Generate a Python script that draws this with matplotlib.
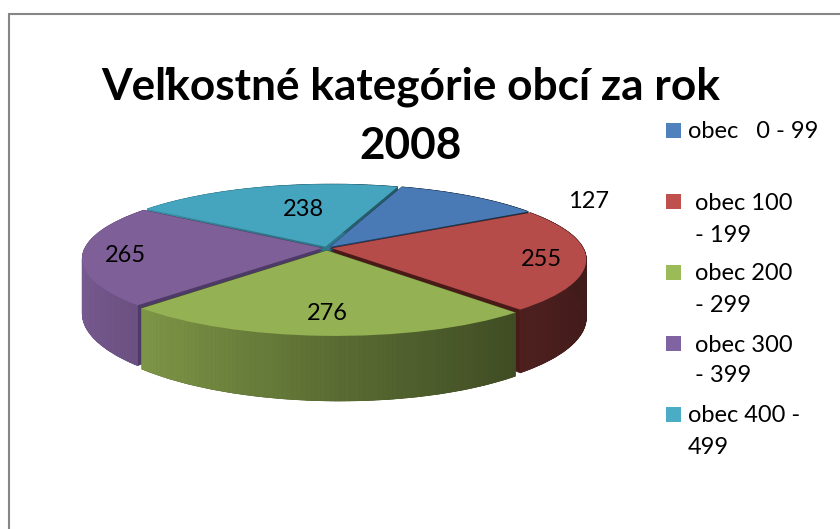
import numpy as np
import matplotlib
matplotlib.use("Agg")
import matplotlib.pyplot as plt
from matplotlib.collections import PolyCollection
from matplotlib.colors import to_rgb
from matplotlib.patches import Rectangle, Wedge
from matplotlib.transforms import Transform

# data
categories = ["obec   0 - 99", "obec 100 - 199", "obec 200 - 299", "obec 300 - 399", "obec 400 - 499"]
values = [127, 255, 276, 265, 238]
title_lines = ["Veľkostné kategórie obcí za rok", "2008"]
legend_lines = [["obec   0 - 99"], ["obec 100", "- 199"], ["obec 200", "- 299"], ["obec 300", "- 399"], ["obec 400 -", "499"]]

# styles
colors = ["#4A7AB5", "#B54C49", "#94B153", "#7E5F98", "#45A4BE"]
legend_colors = ["#4F81BD", "#C0504D", "#9BBB59", "#8064A2", "#4BACC6"]
cut_colors = ["#1F3F66", "#4A1A18", "#3E4A22", "#4D3A66", "#2F7688"]
explode = [0.02, 0.02, 0.035, 0.02, 0.02]
label_pos = [(589, 201), (541, 259), (327, 313), (125, 255), (303, 209)]
legend_sq_y = [123, 194, 265, 336, 407]
legend_text_x = [688, 695, 695, 695, 688]
legend_text_y = [[132], [203, 235], [274, 306], [345, 376], [416, 448]]

plt.rcParams["font.family"] = ["Lato", "DejaVu Sans"]

# view of the pie, in pixels
CX, CY, RX, RY = 327, 248, 244, 72
K, M = 0.147, -0.028
DEPTH = 55
START = 70.5


class Proj(Transform):
    input_dims = 2
    output_dims = 2

    def __init__(self, drop=0):
        super().__init__()
        self.drop = drop

    def transform_non_affine(self, xy):
        xy = np.asarray(xy, dtype=float)
        u, v = xy[:, 0], xy[:, 1]
        s = 1 / (1 + K * v + M * u)
        return np.column_stack((CX + RX * u * s, CY - RY * v * s + self.drop * s))


def shade(c):
    return np.interp(c, [-1, -0.7, 0, 0.7, 1], [0.95, 0.85, 0.62, 0.42, 0.36])


fig = plt.figure(figsize=(8.4, 5.29), dpi=100)
ax = fig.add_axes([0, 0, 1, 1])

# angles of the slices, clockwise from START
sweep = np.array(values) / sum(values) * 360
ends = START - np.cumsum(sweep)
starts = ends + sweep
mids = np.radians((starts + ends) / 2)

# solid body of each slice, back to front, then the outer wall
for i in [4, 0, 3, 1, 2]:
    cen = (explode[i] * np.cos(mids[i]), explode[i] * np.sin(mids[i]))
    for d in np.linspace(DEPTH, 0, 25):
        w = Wedge(cen, 1, ends[i], starts[i], fc=cut_colors[i], ec=cut_colors[i], lw=0.5)
        ax.add_patch(w)
        w.set_transform(Proj(d) + ax.transData)
        w.set_clip_on(False)

    th = np.radians(np.linspace(ends[i], starts[i], 90))
    uv = np.column_stack((cen[0] + np.cos(th), cen[1] + np.sin(th)))
    top = Proj(0).transform_non_affine(uv)
    bot = Proj(DEPTH).transform_non_affine(uv)
    quads = [[top[j], top[j + 1], bot[j + 1], bot[j]] for j in range(len(th) - 1)]
    base = np.array(to_rgb(colors[i]))
    cols = [base * shade(np.cos(a)) for a in th[:-1]]
    ax.add_collection(PolyCollection(quads, facecolors=cols, edgecolors=cols, linewidths=0.6))

# top faces
wedges, _ = ax.pie(values, explode=explode, colors=colors, startangle=START, counterclock=False,
                   wedgeprops={"linewidth": 0})
for w in wedges:
    w.set_transform(Proj(0) + ax.transData)
    w.set_clip_on(False)

ax.set_aspect("auto")
ax.set_xlim(0, 840)
ax.set_ylim(529, 0)
ax.axis("off")

# frame of the chart
ax.plot([9, 9, 840], [529, 13.5, 13.5], color="#868686", lw=1.5, solid_joinstyle="miter")

ax.text(411, 87, title_lines[0], fontsize=31.8, fontweight="bold", ha="center", va="center")
ax.text(411, 146, title_lines[1], fontsize=31.8, fontweight="bold", ha="center", va="center")

for v, (x, y) in zip(values, label_pos):
    ax.text(x, y, str(v), fontsize=17, ha="center", va="center", color="black")

for i in range(len(categories)):
    ax.add_patch(Rectangle((666, legend_sq_y[i]), 15, 15, fc=legend_colors[i], ec="none"))
    for line, y in zip(legend_lines[i], legend_text_y[i]):
        ax.text(legend_text_x[i], y, line, fontsize=17, ha="left", va="center", color="black")

fig.savefig("out.png", dpi=100)
